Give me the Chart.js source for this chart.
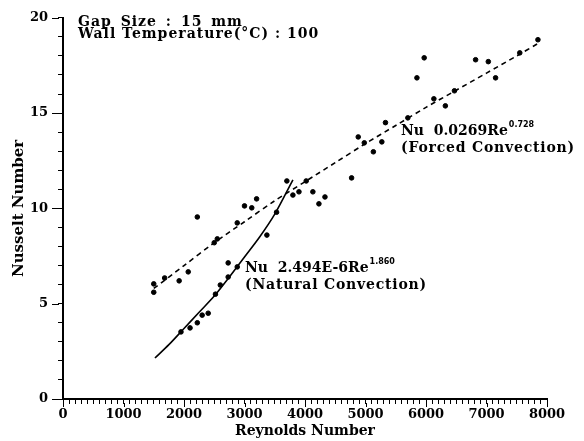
<!DOCTYPE html>
<html>
<head>
<meta charset="utf-8">
<script src="https://cdn.jsdelivr.net/npm/chart.js@4"></script>
<style>
  html, body { margin: 0; padding: 0; background: #fff; }
  #wrap { width: 584px; height: 441px; }
</style>
</head>
<body>
<div id="wrap"><canvas id="myChart" width="584" height="441"></canvas></div>
<script>
// measured points
const measRe = [1500, 1500, 1680, 1920, 2070, 2220, 2500, 2550, 2880, 3000, 3120, 3200, 3370, 3530,
                3700, 3800, 3900, 4020, 4130, 4230, 4330, 4770, 4880, 4980, 5130, 5270, 5330, 5700,
                5850, 5970, 6130, 6320, 6470, 6820, 7030, 7150, 7550, 7850,
                1950, 2100, 2220, 2300, 2400, 2520, 2600, 2730, 2730, 2880];
const measNu = [6.04, 5.6, 6.35, 6.2, 6.67, 9.55, 8.2, 8.4, 9.24, 10.13, 10.03, 10.5, 8.6, 9.8,
                11.44, 10.7, 10.87, 11.44, 10.87, 10.24, 10.6, 11.6, 13.75, 13.44, 12.97, 13.49, 14.5, 14.75,
                16.85, 17.9, 15.75, 15.38, 16.17, 17.8, 17.7, 16.85, 18.16, 18.85,
                3.52, 3.73, 4.0, 4.4, 4.5, 5.5, 5.98, 6.4, 7.14, 6.93];

// forced convection fit (dashed)
const forcedRe = [1500, 2000, 2500, 3000, 3500, 4000, 4500, 5000, 5500, 6000, 6500, 7000, 7500, 7850];
const forcedNu = [5.8, 7.0, 8.2, 9.3, 10.4, 11.4, 12.4, 13.4, 14.35, 15.3, 16.2, 17.1, 18.0, 18.65];

// natural convection fit (solid)
const naturalRe = [1520, 1750, 2000, 2250, 2500, 2750, 3000, 3250, 3500, 3800];
const naturalNu = [2.15, 2.85, 3.7, 4.55, 5.4, 6.4, 7.45, 8.5, 9.7, 11.5];

const xTickLabels = [0, 1000, 2000, 3000, 4000, 5000, 6000, 7000, 8000];
const yTickLabels = [0, 5, 10, 15, 20];

const toXY = (xs, ys) => xs.map((x, i) => ({ x: x, y: ys[i] }));

const tickFont = { family: '"DejaVu Serif"', size: 13, weight: 'bold' };

// labelled ticks are a bit longer than the minor ones
const longTicks = {
  id: 'longTicks',
  afterDraw(chart) {
    const ctx = chart.ctx;
    const xs = chart.scales.x, ys = chart.scales.y;
    ctx.save();
    ctx.strokeStyle = '#000';
    ctx.lineWidth = 1;
    ctx.beginPath();
    yTickLabels.forEach(v => {
      const py = Math.round(ys.getPixelForValue(v)) + 0.5;
      ctx.moveTo(ys.right - 11, py);
      ctx.lineTo(ys.right - 4, py);
    });
    xTickLabels.forEach(v => {
      const px = Math.round(xs.getPixelForValue(v)) + 0.5;
      ctx.moveTo(px, xs.top + 4);
      ctx.lineTo(px, xs.top + 8);
    });
    ctx.stroke();
    ctx.restore();
  }
};

// text drawn on the canvas: header lines and the two fit labels
const notes = {
  id: 'notes',
  afterDraw(chart) {
    const ctx = chart.ctx;
    ctx.save();
    ctx.fillStyle = '#000';
    ctx.textBaseline = 'alphabetic';
    ctx.textAlign = 'left';

    ctx.font = 'bold 14px "DejaVu Serif"';
    ctx.letterSpacing = '1px';
    ctx.wordSpacing = '3px';
    ctx.fillText('Gap Size : 15 mm', 78, 26);
    ctx.wordSpacing = '0px';
    ctx.fillText('Wall Temperature(°C) : 100', 78, 38);

    function eq(x, y, base, sup, second) {
      ctx.letterSpacing = '0px';
      ctx.font = 'bold 14px "DejaVu Serif"';
      ctx.fillText(base, x, y);
      const w = ctx.measureText(base).width;
      ctx.font = 'bold 8px "DejaVu Sans"';
      ctx.fillText(sup, x + w + 1, y - 8);
      ctx.font = 'bold 14px "DejaVu Serif"';
      ctx.letterSpacing = '0.8px';
      ctx.fillText(second, x, y + 17);
    }
    eq(401, 135, 'Nu  0.0269Re', '0.728', '(Forced Convection)');
    eq(245, 272, 'Nu  2.494E-6Re', '1.860', '(Natural Convection)');
    ctx.restore();
  }
};

const ctx = document.getElementById('myChart').getContext('2d');
new Chart(ctx, {
  type: 'scatter',
  data: {
    datasets: [
      {
        label: 'measured',
        data: toXY(measRe, measNu),
        backgroundColor: '#000',
        borderColor: '#000',
        pointRadius: 2.3,
        pointHoverRadius: 2.3
      },
      {
        label: 'forced',
        type: 'line',
        data: toXY(forcedRe, forcedNu),
        borderColor: '#000',
        borderWidth: 1.6,
        borderDash: [5, 4],
        pointRadius: 0,
        tension: 0.3,
        fill: false
      },
      {
        label: 'natural',
        type: 'line',
        data: toXY(naturalRe, naturalNu),
        borderColor: '#000',
        borderWidth: 1.6,
        pointRadius: 0,
        tension: 0.3,
        fill: false
      }
    ]
  },
  options: {
    responsive: false,
    animation: false,
    layout: { padding: { left: 0, right: 37, top: 16, bottom: 0 } },
    plugins: {
      legend: { display: false },
      tooltip: { enabled: false }
    },
    scales: {
      x: {
        type: 'linear',
        min: 0,
        max: 8000,
        afterFit: (s) => { s.height = 42; },
        border: { color: '#000', width: 2 },
        grid: { drawOnChartArea: false, tickLength: 5, tickColor: '#000', tickWidth: 1 },
        ticks: {
          stepSize: 100,
          autoSkip: false,
          maxTicksLimit: 100,
          maxRotation: 0,
          padding: 3,
          color: '#000',
          font: tickFont,
          callback: (v) => xTickLabels.includes(v) ? String(v) : ''
        },
        title: {
          display: true,
          text: 'Reynolds Number',
          color: '#000',
          font: { family: '"DejaVu Serif"', size: 14, weight: 'bold' },
          padding: { top: 0, bottom: 1 }
        }
      },
      y: {
        type: 'linear',
        min: 0,
        max: 20,
        afterFit: (s) => { s.width = 63; },
        border: { color: '#000', width: 2 },
        grid: { drawOnChartArea: false, tickLength: 5, tickColor: '#000', tickWidth: 1 },
        ticks: {
          stepSize: 1,
          autoSkip: false,
          maxTicksLimit: 100,
          padding: 10,
          color: '#000',
          font: tickFont,
          callback: (v) => yTickLabels.includes(v) ? String(v) : ''
        },
        title: {
          display: true,
          text: 'Nusselt Number',
          color: '#000',
          font: { family: '"DejaVu Serif"', size: 15, weight: 'bold' },
          padding: { top: 10, bottom: 0 }
        }
      }
    }
  },
  plugins: [notes, longTicks]
});
</script>
</body>
</html>
